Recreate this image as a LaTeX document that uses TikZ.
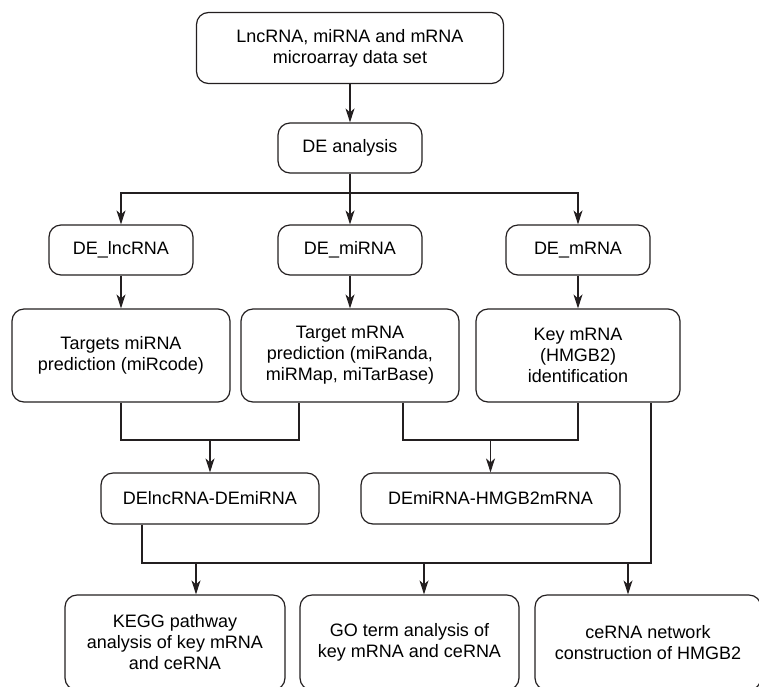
\documentclass[tikz,border=0pt]{standalone}
\usepackage{fontspec}
\setsansfont{Liberation Sans}
\usetikzlibrary{arrows.meta, positioning, calc}
\definecolor{cline}{HTML}{231F20}
\tikzset{
  every picture/.style={font=\sffamily, line width=1.2pt},
  box/.style={draw=cline, fill=white, rounded corners=12pt, align=center, inner sep=4pt, font=\sffamily\fontsize{18}{21}\selectfont},
  arrow/.style={-{Stealth[length=14pt, width=9pt, inset=4pt]}, draw=cline, line width=1.2pt},
  link/.style={draw=cline, line width=1.2pt},
}

\begin{document}
\begin{tikzpicture}[x=1pt, y=-1pt, small/.style={box, minimum width=144pt, minimum height=50pt},
  big/.style={box, minimum width=218pt, minimum height=93pt}]
  \useasboundingbox (0,0) rectangle (759,686);
  \node[box, minimum width=307pt, minimum height=71pt] (data) at (350,48) {LncRNA, miRNA and mRNA\\microarray data set};
  \node[small] (de) at (350,148) {DE analysis};
  \foreach \n/\x/\t in {delnc/121/DE\_lncRNA, demi/350/DE\_miRNA, dem/578/DE\_mRNA}
    \node[small] (\n) at (\x,250) {\t};
  \node[big] (tlnc) at (121,355.5) {Targets miRNA\\prediction (miRcode)};
  \node[big] (tmi) at (350,355.5) {Target mRNA\\prediction (miRanda,\\miRMap, miTarBase)};
  \node[big, minimum width=204pt] (key) at (578,355.5) {Key mRNA\\(HMGB2)\\identification};
  \node[box, minimum width=218pt, minimum height=51pt] (pair1) at (210,498.5) {DElncRNA-DEmiRNA};
  \node[box, minimum width=259pt, minimum height=51pt] (pair2) at (490.5,498.5) {DEmiRNA-HMGB2mRNA};
  \node[big, minimum width=220pt, minimum height=95pt] (kegg) at (175,642.5) {KEGG pathway\\analysis of key mRNA\\and ceRNA};
  \node[big, minimum width=219pt, minimum height=95pt] (go) at (409.5,642.5) {GO term analysis of\\key mRNA and ceRNA};
  \node[big, minimum width=226pt, minimum height=95pt] (cerna) at (648,642.5) {ceRNA network\\construction of HMGB2};

  \draw[arrow] (data) -- (de);
  \coordinate (split) at (350,193);
  \draw[arrow] (de) -- (demi);
  \draw[arrow] (split) -| (delnc);
  \draw[arrow] (split) -| (dem);
  \foreach \a/\b in {delnc/tlnc, demi/tmi, dem/key} \draw[arrow] (\a) -- (\b);

  \coordinate (j1) at (210,440);
  \draw[link] (tlnc.south) |- (j1) -| ([xshift=-51pt]tmi.south);
  \draw[arrow] (j1) -- (pair1);
  \coordinate (j2) at (490.5,440);
  \draw[link] ([xshift=53pt]tmi.south) |- (j2) -| (key.south);
  \draw[arrow] (j2) -- (pair2);

  \coordinate (b1) at (196,563);
  \coordinate (b2) at (424,563);
  \coordinate (b3) at (628,563);
  \draw[link] ([xshift=-68pt]pair1.south) |- (b3) -| ([xshift=73pt]key.south);
  \foreach \c/\n in {b1/kegg, b2/go, b3/cerna} \draw[arrow] (\c) -- (\c |- \n.north);
\end{tikzpicture}
\end{document}
